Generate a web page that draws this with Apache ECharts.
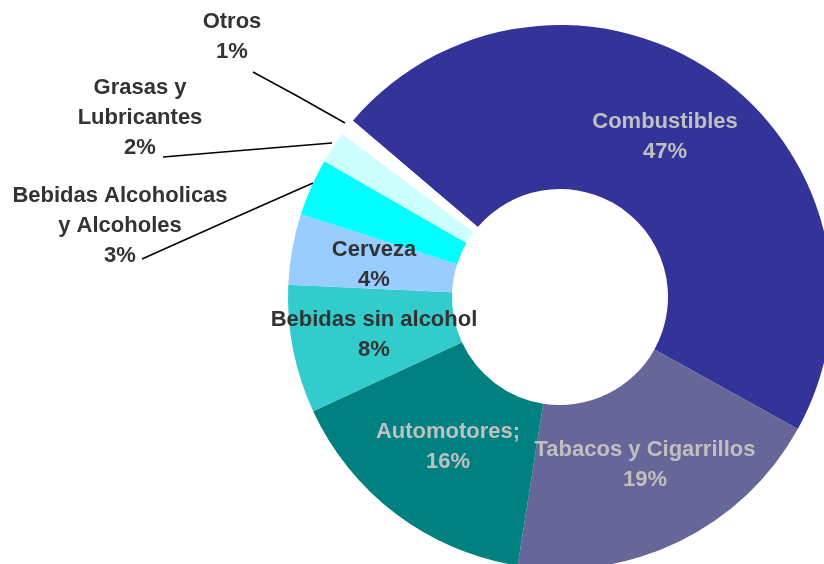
<!DOCTYPE html>
<html>
<head>
<meta charset="utf-8">
<script src="https://cdn.jsdelivr.net/npm/echarts@6/dist/echarts.min.js"></script>
<style>
html,body{margin:0;padding:0;background:#fff;}
#chart{width:824px;height:564px;}
</style>
</head>
<body>
<div id="chart"></div>
<script>
var categories = ['Combustibles', 'Tabacos y Cigarrillos', 'Automotores;', 'Bebidas sin alcohol', 'Cerveza', 'Bebidas Alcoholicas\ny Alcoholes', 'Grasas y\nLubricantes', 'Otros'];
var values = [46.8, 19.4, 15.6, 7.6, 4.2, 3.4, 1.9, 1.0];
var colors = ['#333399', '#666699', '#008080', '#33CCCC', '#99CCFF', '#00FFFF', '#CCFFFF', '#FFFFFF'];
var labelColors = ['#C0C0C0', '#C0C0C0', '#C0C0C0', '#333333', '#333333', '#333333', '#333333', '#333333'];
var outsideLabel = [false, false, false, false, false, true, true, true];

// label placement (centre of each label block) and leader lines
var labelPos = [[665, 137], [645, 465], [448, 447], [374, 335], [374, 265], [120, 226], [140, 118], [232, 37]];
var leader = {
  5: [[142, 259], [227, 221], [313, 183]],
  6: [[163, 157], [247, 150], [332, 143]],
  7: [[253, 72], [299, 97], [345, 123]]
};

var chart = echarts.init(document.getElementById('chart'), null, {renderer: 'canvas'});
var data = categories.map(function (c, i) {
  return {
    name: c,
    value: values[i],
    itemStyle: {color: colors[i]},
    label: {
      position: outsideLabel[i] ? 'outside' : 'inside',
      color: labelColors[i]
    },
    labelLine: {show: outsideLabel[i], lineStyle: {color: '#000', width: 1.5}}
  };
});

chart.setOption({
  animation: false,
  series: [{
    type: 'pie',
    center: [560, 297],
    radius: [108, 272],
    startAngle: 139.6,
    clockwise: true,
    avoidLabelOverlap: false,
    emphasis: {disabled: true},
    itemStyle: {borderWidth: 0},
    label: {
      show: true,
      fontFamily: 'Liberation Sans, Arial, sans-serif',
      fontWeight: 'bold',
      fontSize: 22,
      lineHeight: 30,
      align: 'center',
      formatter: function (p) { return p.name + '\n' + Math.round(p.percent) + '%'; }
    },
    labelLayout: function (p) {
      var pos = labelPos[p.dataIndex];
      var r = {x: pos[0], y: pos[1], align: 'center', verticalAlign: 'middle'};
      if (leader[p.dataIndex]) r.labelLinePoints = leader[p.dataIndex];
      return r;
    },
    data: data
  }]
});
</script>
</body>
</html>
